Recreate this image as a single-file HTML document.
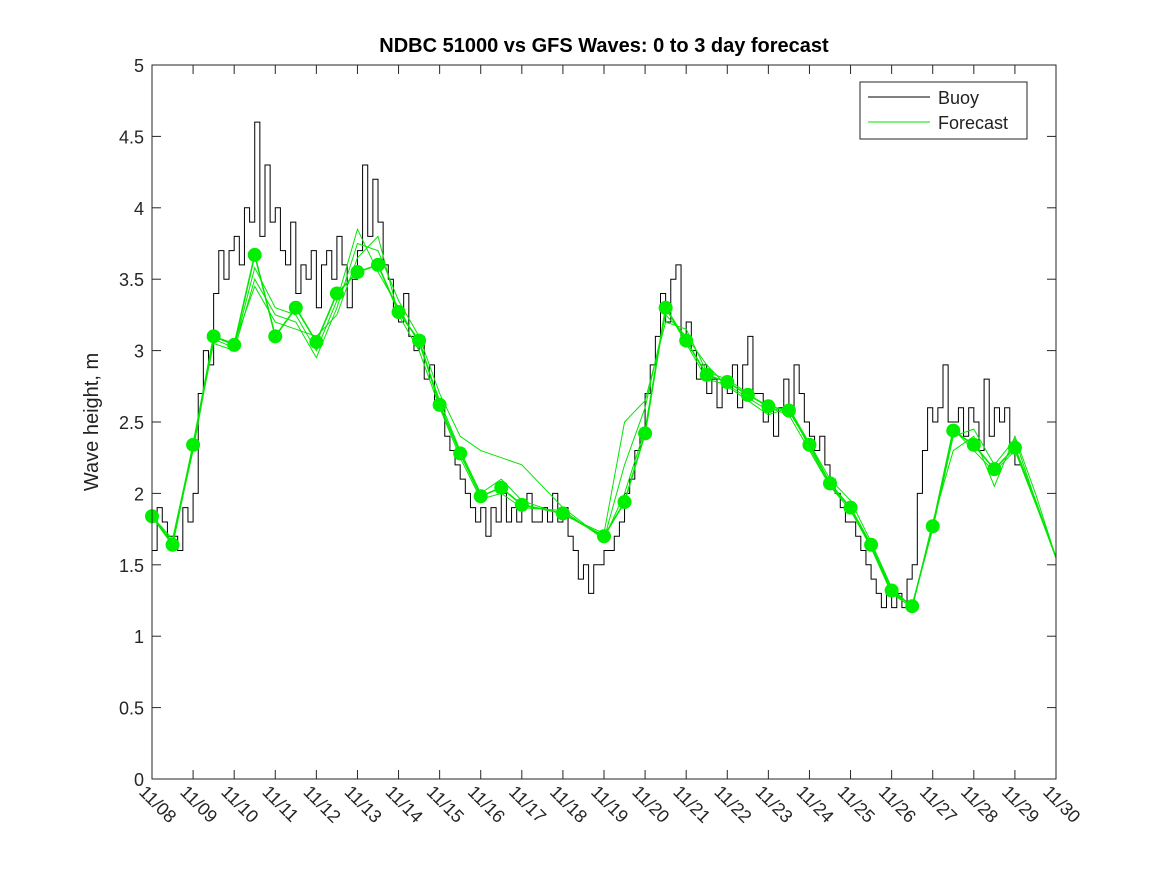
<!DOCTYPE html>
<html><head><meta charset="utf-8"><style>
body{margin:0;background:#fff;}
svg text{font-family:"Liberation Sans","DejaVu Sans",sans-serif;}
</style></head><body>
<svg id="chart" width="1167" height="875" viewBox="0 0 1167 875">
<rect width="1167" height="875" fill="#fff"/>
<text x="604" y="52" text-anchor="middle" font-size="20" font-weight="bold" fill="#000">NDBC 51000 vs GFS Waves: 0 to 3 day forecast</text>
<text transform="translate(98,422) rotate(-90)" text-anchor="middle" font-size="20" fill="#222">Wave height, m</text>
<g id="grid"></g>
<g id="buoy"></g>
<g id="fc"></g>
<g id="dots"></g>
<rect x="152" y="65" width="904" height="714" fill="none" stroke="#262626" stroke-width="1"/>
<g id="axes"></g>
<g>
<rect x="860" y="82" width="167" height="57" fill="#fff" stroke="#262626"/>
<line x1="868" y1="97" x2="930" y2="97" stroke="#000" stroke-width="1"/>
<text x="938" y="104" font-size="18" fill="#222">Buoy</text>
<line x1="868" y1="122" x2="930" y2="122" stroke="#00e600" stroke-width="1"/>
<text x="938" y="129" font-size="18" fill="#222">Forecast</text>
</g>
</svg>
<script>
const xTickLabels=["11/08","11/09","11/10","11/11","11/12","11/13","11/14","11/15","11/16","11/17","11/18","11/19","11/20","11/21","11/22","11/23","11/24","11/25","11/26","11/27","11/28","11/29","11/30"];
const yTicks=[0,0.5,1,1.5,2,2.5,3,3.5,4,4.5,5];
const buoyDays=[0,0.125,0.25,0.375,0.5,0.625,0.75,0.875,1,1.125,1.25,1.375,1.5,1.625,1.75,1.875,2,2.125,2.25,2.375,2.5,2.625,2.75,2.875,3,3.125,3.25,3.375,3.5,3.625,3.75,3.875,4,4.125,4.25,4.375,4.5,4.625,4.75,4.875,5,5.125,5.25,5.375,5.5,5.625,5.75,5.875,6,6.125,6.25,6.375,6.5,6.625,6.75,6.875,7,7.125,7.25,7.375,7.5,7.625,7.75,7.875,8,8.125,8.25,8.375,8.5,8.625,8.75,8.875,9,9.125,9.25,9.375,9.5,9.625,9.75,9.875,10,10.125,10.25,10.375,10.5,10.625,10.75,10.875,11,11.125,11.25,11.375,11.5,11.625,11.75,11.875,12,12.125,12.25,12.375,12.5,12.625,12.75,12.875,13,13.125,13.25,13.375,13.5,13.625,13.75,13.875,14,14.125,14.25,14.375,14.5,14.625,14.75,14.875,15,15.125,15.25,15.375,15.5,15.625,15.75,15.875,16,16.125,16.25,16.375,16.5,16.625,16.75,16.875,17,17.125,17.25,17.375,17.5,17.625,17.75,17.875,18,18.125,18.25,18.375,18.5,18.625,18.75,18.875,19,19.125,19.25,19.375,19.5,19.625,19.75,19.875,20,20.125,20.25,20.375,20.5,20.625,20.75,20.875,21,21.125,21.25,21.375,21.5];
const buoyValues=[1.6,1.9,1.8,1.7,1.7,1.6,1.9,1.8,2.0,2.7,3.0,2.9,3.4,3.7,3.5,3.7,3.8,3.6,4.0,3.9,4.6,3.8,4.3,3.9,4.0,3.7,3.6,3.9,3.4,3.6,3.5,3.7,3.3,3.6,3.7,3.5,3.8,3.6,3.3,3.5,3.7,4.3,3.8,4.2,3.9,3.6,3.5,3.3,3.2,3.4,3.1,3.0,3.1,2.8,2.9,2.6,2.6,2.4,2.3,2.2,2.1,2.0,1.9,1.8,1.9,1.7,1.9,1.8,2.0,1.8,1.9,1.8,1.9,2.0,1.8,1.8,1.9,1.8,2.0,1.8,1.9,1.7,1.6,1.4,1.5,1.3,1.5,1.5,1.6,1.6,1.7,1.8,2.0,2.1,2.3,2.4,2.7,2.9,3.1,3.4,3.2,3.5,3.6,3.1,3.2,3.0,2.8,2.9,2.7,2.8,2.6,2.8,2.7,2.9,2.6,2.9,3.1,2.7,2.7,2.5,2.6,2.4,2.6,2.8,2.6,2.9,2.7,2.5,2.4,2.3,2.4,2.2,2.1,2.0,1.9,1.8,1.8,1.7,1.6,1.5,1.4,1.3,1.2,1.3,1.2,1.3,1.2,1.4,1.5,2.0,2.3,2.6,2.5,2.6,2.9,2.5,2.5,2.6,2.4,2.6,2.5,2.3,2.8,2.4,2.6,2.5,2.6,2.3,2.2];
const fcDays=[0,0.5,1,1.5,2,2.5,3,3.5,4,4.5,5,5.5,6,6.5,7,7.5,8,8.5,9,10,11,11.5,12,12.5,13,13.5,14,14.5,15,15.5,16,16.5,17,17.5,18,18.5,19,19.5,20,20.5,21,21.5,22];
const fcValues=[1.84,1.64,2.34,3.1,3.04,3.67,3.1,3.3,3.06,3.4,3.55,3.6,3.27,3.07,2.62,2.28,1.98,2.04,1.92,1.86,1.7,1.94,2.42,3.3,3.07,2.83,2.78,2.69,2.61,2.58,2.34,2.07,1.9,1.64,1.32,1.21,1.77,2.44,2.34,2.17,2.32,1.95,1.55];
const runA=[1.84,1.68,2.34,3.05,3.0,3.5,3.25,3.2,2.95,3.3,3.75,3.7,3.35,3.1,2.7,2.4,2.3,2.25,2.2,1.9,1.68,2.2,2.6,3.25,3.1,2.9,2.75,2.65,2.55,2.6,2.35,2.1,1.95,1.66,1.34,1.2,1.8,2.3,2.4,2.05,2.4,2.0,1.55];
const runB=[1.84,1.66,2.3,3.08,3.02,3.58,3.3,3.25,3.0,3.35,3.85,3.55,3.3,3.05,2.65,2.3,2.0,2.1,1.95,1.85,1.72,2.5,2.65,3.2,3.15,2.85,2.8,2.7,2.6,2.55,2.3,2.05,1.88,1.62,1.3,1.22,1.75,2.4,2.45,2.2,2.38,1.95,1.55];
const runC=[1.84,1.64,2.32,3.1,3.05,3.45,3.2,3.15,3.1,3.25,3.65,3.8,3.25,3.0,2.6,2.25,1.96,2.0,1.9,1.88,1.68,2.0,2.45,3.3,3.05,2.8,2.76,2.67,2.58,2.6,2.32,2.05,1.9,1.62,1.3,1.2,1.78,2.45,2.3,2.15,2.3,1.93,1.55];
const NS="http://www.w3.org/2000/svg";
const X0=152,X1=1056,Y0=779,Y1=65;
function xs(d){return X0+(X1-X0)*d/22;}
function ys(v){return Y0-(Y0-Y1)*v/5;}
function mk(t,a,p){const e=document.createElementNS(NS,t);for(const k in a)e.setAttribute(k,a[k]);(p||document.getElementById('chart')).appendChild(e);return e;}
const axes=document.getElementById('axes');
yTicks.forEach(v=>{
 const y=ys(v);
 const t=mk('line',{x1:X0,y1:y,x2:X0+9,y2:y,stroke:'#262626'},axes);
 
 
 const t2=mk('line',{x1:X1-9,y1:y,x2:X1,y2:y,stroke:'#262626'},axes);
 
 
 const l=mk('text',{x:X0-8,y:y+7,'text-anchor':'end','font-size':18,fill:'#262626'},axes);
 l.textContent=String(v);
 
 
});
xTickLabels.forEach((s,i)=>{
 const x=xs(i);
 const t=mk('line',{x1:x,y1:Y0,x2:x,y2:Y0-9,stroke:'#262626'},axes);
 
 
 const t2=mk('line',{x1:x,y1:Y1,x2:x,y2:Y1+9,stroke:'#262626'},axes);
 
 
 const l=mk('text',{transform:`translate(${x-14},${Y0+14}) rotate(45)`,'font-size':18,fill:'#262626'},axes);
 l.textContent=s;
 
 
});
function path(ds,vs,step){let d='';ds.forEach((t,i)=>{const x=xs(t),y=ys(vs[i]);if(i===0)d+=`M${x},${y}`;else if(step){d+=`L${x},${ys(vs[i-1])}L${x},${y}`;}else d+=`L${x},${y}`;});return d;}
const bp=mk('path',{d:path(buoyDays,buoyValues,true),fill:'none',stroke:'#000','stroke-width':1},document.getElementById('buoy'));


const fcG=document.getElementById('fc');
[runA,runB,runC,fcValues].forEach((r,i)=>{
 const p=mk('path',{d:path(fcDays,r,false),fill:'none',stroke:'#00e600','stroke-width':i===3?1.6:1},fcG);
 
 
});
const dG=document.getElementById('dots');
fcDays.forEach((t,i)=>{
 if(t>21)return;
 const c=mk('circle',{cx:xs(t),cy:ys(fcValues[i]),r:7,fill:'#00ee00'},dG);
 
 
});
</script>
</body></html>
